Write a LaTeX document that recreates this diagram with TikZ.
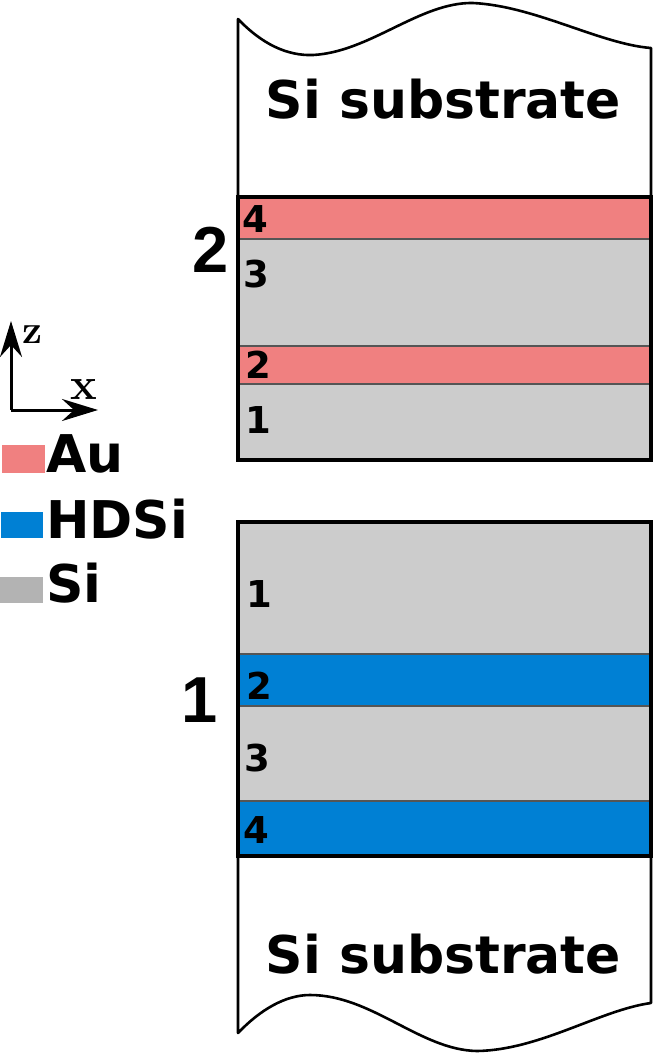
\documentclass[tikz,border=0pt]{standalone}
\usepackage{fontspec}
\newfontfamily\dvb{DejaVu Sans}[BoldFont={DejaVu Sans Bold}]
\newfontfamily\lsb{Liberation Sans}
\usetikzlibrary{arrows.meta}
\definecolor{aucol}{HTML}{F08080}
\definecolor{sicol}{HTML}{CCCCCC}
\definecolor{hdcol}{HTML}{0080D4}
\definecolor{legsi}{HTML}{B3B3B3}
\definecolor{sepcol}{HTML}{555555}
\tikzset{
  layerlbl/.style={anchor=base,inner sep=0pt,font=\dvb\bfseries\fontsize{37}{37}\selectfont},
  biglbl/.style={anchor=base,inner sep=0pt,font=\lsb\bfseries\fontsize{65}{65}\selectfont},
  subtxt/.style={anchor=base,inner sep=0pt,font=\dvb\bfseries\fontsize{52}{52}\selectfont},
  legtxt/.style={anchor=base west,inner sep=0pt,font=\dvb\bfseries\fontsize{52}{52}\selectfont},
  sep/.style={draw=sepcol,line width=1.2pt},
  frame/.style={draw=black,line width=3.4pt},
  outline/.style={draw=black,line width=2.6pt,line join=round},
  axis/.style={line width=3pt,-{Stealth[length=36pt,width=22pt,inset=12pt]}}
}
\begin{document}
\begin{tikzpicture}[x=1pt,y=-1pt]
\useasboundingbox (0,0) rectangle (655,1053);

% ---------- top substrate ----------
\draw[outline] (238,197) -- (238,19)
  .. controls (262,44) and (287,56) .. (313,55)
  .. controls (370,52) and (420,2) .. (473,3)
  .. controls (535,6) and (600,44) .. (651,48) -- (651,197);
\node[subtxt] (subtop) at (443.5,118) {Si substrate};

% ---------- stack 2 ----------
\fill[aucol] (238,197) rectangle (651,239);
\fill[sicol] (238,239) rectangle (651,346);
\fill[aucol] (238,346) rectangle (651,384);
\fill[sicol] (238,384) rectangle (651,460);
\draw[sep] (238,239) -- (651,239);
\draw[sep] (238,346) -- (651,346);
\draw[sep] (238,384) -- (651,384);
\draw[frame] (238,197) rectangle (651,460);
\node[layerlbl] (t4) at (255,232) {4};
\node[layerlbl] (t3) at (256,287) {3};
\node[layerlbl] (t2) at (258,378) {2};
\node[layerlbl] (t1) at (258,433) {1};
\node[biglbl] (s2) at (211,272) {2};

% ---------- stack 1 ----------
\fill[sicol] (238,522) rectangle (651,654);
\fill[hdcol] (238,654) rectangle (651,706);
\fill[sicol] (238,706) rectangle (651,801);
\fill[hdcol] (238,801) rectangle (651,856);
\draw[sep] (238,654) -- (651,654);
\draw[sep] (238,706) -- (651,706);
\draw[sep] (238,801) -- (651,801);
\draw[frame] (238,522) rectangle (651,856);
\node[layerlbl] (b1) at (259,607) {1};
\node[layerlbl] (b2) at (259.5,699) {2};
\node[layerlbl] (b3) at (257.5,771) {3};
\node[layerlbl] (b4) at (256.5,843) {4};
\node[biglbl] (s1) at (200,722) {1};

% ---------- bottom substrate ----------
\draw[outline] (238,856) -- (238,1033)
  .. controls (260,1010) and (285,995) .. (310,995)
  .. controls (372,995) and (420,1050) .. (477,1051)
  .. controls (540,1050) and (600,1010) .. (651,1003) -- (651,856);
\node[subtxt] (subbot) at (443.5,973) {Si substrate};

% ---------- axes ----------
\coordinate (o) at (11,410);
\coordinate (zt) at (11,321);
\coordinate (xt) at (98,410);
\draw[axis] (o) -- (zt);
\draw[axis] (o) -- (xt);
\node[anchor=base,inner sep=0pt,font=\bfseries\fontsize{40}{40}\selectfont] (zl) at (33,343) {z};
\node[anchor=base,inner sep=0pt,font=\bfseries\fontsize{45}{45}\selectfont] (xl) at (84,399) {x};

% ---------- legend ----------
\fill[aucol] (2,445) rectangle (45,473);
\node[legtxt] (lau) at (46,472) {Au};
\fill[hdcol] (1,512) rectangle (43,538);
\node[legtxt] (lhd) at (46,538) {HDSi};
\fill[legsi] (0,577) rectangle (43,603);
\node[legtxt] (lsi) at (46,602) {Si};
\end{tikzpicture}
\end{document}
